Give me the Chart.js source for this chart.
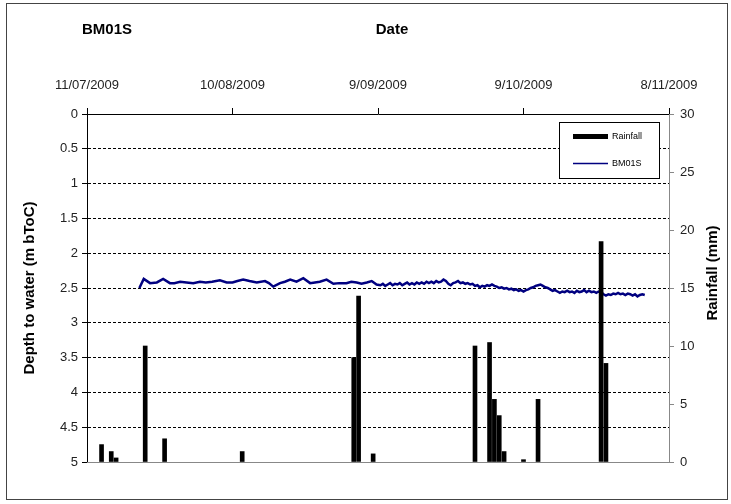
<!DOCTYPE html>
<html>
<head>
<meta charset="utf-8">
<script src="https://cdn.jsdelivr.net/npm/chart.js@4"></script>
<style>
  html, body { margin: 0; background: #fff; }
  #wrap { width: 731px; height: 504px; }
</style>
</head>
<body>
<div id="wrap"><canvas id="chart" width="731" height="504"></canvas></div>
<script>
// days counted from 11/07/2009
const dateLabels = ['11/07/2009', '10/08/2009', '9/09/2009', '9/10/2009', '8/11/2009'];
const dateTicks = [0, 30, 60, 90, 120];

const rainDays = [3, 5, 6, 12, 16, 32, 55, 56, 59, 80, 83, 84, 85, 86, 90, 93, 106, 107];
const rainMm   = [1.5, 0.9, 0.35, 10, 2.0, 0.9, 9.0, 14.3, 0.7, 10.0, 10.3, 5.4, 4.0, 0.9, 0.2, 5.4, 19.0, 8.5];

const lineDays = [
  10.8, 11.7, 13.0, 14.4, 15.7, 17.1, 18.0, 19.2, 20.5, 21.9, 23.3, 24.5, 25.8, 27.4, 28.8,
  30.0, 31.0, 32.2, 33.5, 35.0, 36.7, 37.5, 38.4, 39.8, 40.8, 41.9, 43.2, 44.6, 46.0, 47.0,
  48.0, 49.4, 50.8, 52.0, 53.5, 54.5, 55.6, 56.6, 57.7, 58.7, 59.7,
  60.5, 61, 61.5, 62, 62.5, 63, 63.5, 64, 64.5, 65, 65.5, 66, 66.5, 67, 67.5, 68, 68.5, 69, 69.5,
  70, 70.5, 71, 71.5, 72, 72.5, 73, 73.5, 74, 74.5, 75, 75.5, 76, 76.5, 77, 77.5, 78, 78.5, 79, 79.5,
  80, 80.5, 81, 81.5, 82, 82.5, 83, 83.5, 84, 84.5, 85, 85.5, 86, 86.5, 87, 87.5, 88, 88.5, 89, 89.5,
  90, 90.5, 91, 91.5, 92, 92.5, 93, 93.5, 94, 94.5, 95, 95.5, 96, 96.5, 97, 97.5, 98, 98.5, 99, 99.5,
  100, 100.5, 101, 101.5, 102, 102.5, 103, 103.5, 104, 104.5, 105, 105.5, 106, 106.5, 107, 107.5,
  108, 108.5, 109, 109.5, 110, 110.5, 111, 111.5, 112, 112.5, 113, 113.5, 114, 114.5, 115
];
const lineDepth = [
  2.50, 2.37, 2.43, 2.42, 2.37, 2.43, 2.43, 2.41, 2.42, 2.43, 2.41, 2.42, 2.41, 2.39, 2.42,
  2.42, 2.40, 2.38, 2.40, 2.42, 2.40, 2.43, 2.48, 2.43, 2.41, 2.38, 2.41, 2.36, 2.43, 2.42,
  2.41, 2.38, 2.44, 2.43, 2.43, 2.41, 2.42, 2.44, 2.42, 2.40, 2.45,
  2.46, 2.44, 2.47, 2.45, 2.43, 2.46, 2.44, 2.45, 2.43, 2.46, 2.44, 2.42, 2.45, 2.43, 2.45, 2.42, 2.44, 2.42, 2.44,
  2.41, 2.43, 2.41, 2.43, 2.40, 2.42, 2.41, 2.38, 2.40, 2.44, 2.46, 2.43, 2.42, 2.40, 2.43, 2.42, 2.44, 2.43, 2.45, 2.44,
  2.47, 2.46, 2.49, 2.47, 2.48, 2.46, 2.47, 2.45, 2.47, 2.48, 2.50, 2.49, 2.51, 2.50, 2.52, 2.51, 2.53, 2.52, 2.54, 2.53,
  2.55, 2.53, 2.52, 2.50, 2.49, 2.47, 2.46, 2.45, 2.47, 2.49, 2.50, 2.52, 2.54, 2.53, 2.55, 2.57, 2.55, 2.56, 2.54, 2.56,
  2.55, 2.57, 2.54, 2.56, 2.55, 2.53, 2.56, 2.54, 2.56, 2.55, 2.57, 2.55, 2.56, 2.59, 2.61, 2.59,
  2.60, 2.58, 2.59, 2.57, 2.59, 2.58, 2.60, 2.58, 2.59, 2.61, 2.59, 2.62, 2.60, 2.59, 2.60
];

const stationName = 'BM01S';
const fontFamily = 'Arial, "Liberation Sans", sans-serif';
const tickFont = { family: fontFamily, size: 13 };
const tickColor = '#222';

// frame, headings, right title, bottom line and boxed legend
const decor = {
  id: 'decor',
  beforeDraw(chart) {
    const c = chart.ctx;
    c.save();
    c.fillStyle = '#fff';
    c.fillRect(0, 0, chart.width, chart.height);
    c.restore();
  },
  afterDraw(chart) {
    const c = chart.ctx;
    const a = chart.chartArea;
    c.save();
    c.strokeStyle = '#888';
    c.lineWidth = 1;
    c.beginPath();
    c.moveTo(a.left, a.bottom + 0.5);
    c.lineTo(a.right, a.bottom + 0.5);
    c.stroke();

    c.strokeStyle = '#444';
    c.strokeRect(6.5, 3.5, 721, 496);

    c.fillStyle = '#000';
    c.font = 'bold 15px ' + fontFamily;
    c.textAlign = 'center';
    c.textBaseline = 'middle';
    c.fillText(stationName, 107, 30);
    c.fillText('Date', 392, 30);

    c.save();
    c.translate(713, 273);
    c.rotate(-Math.PI / 2);
    c.fillText('Rainfall (mm)', 0, 0);
    c.restore();

    // legend
    const ds = chart.data.datasets;
    c.fillStyle = '#fff';
    c.fillRect(559, 122, 100, 56);
    c.strokeStyle = '#000';
    c.strokeRect(559.5, 122.5, 100, 56);
    c.fillStyle = '#000';
    c.fillRect(573, 134, 35, 5);
    c.strokeStyle = '#000080';
    c.lineWidth = 1.5;
    c.beginPath();
    c.moveTo(573, 163.5);
    c.lineTo(608, 163.5);
    c.stroke();
    c.fillStyle = '#000';
    c.font = '9px ' + fontFamily;
    c.textAlign = 'left';
    c.fillText(ds[0].label, 612, 137);
    c.fillText(ds[1].label, 612, 164);
    c.restore();
  }
};

new Chart(document.getElementById('chart'), {
  type: 'bar',
  data: {
    datasets: [{
      label: 'Rainfall',
      data: rainDays.map((d, i) => ({ x: d, y: rainMm[i] })),
      yAxisID: 'y2',
      backgroundColor: '#000',
      barThickness: 4,
      order: 1
    }, {
      type: 'line',
      label: stationName,
      data: lineDays.map((d, i) => ({ x: d, y: lineDepth[i] })),
      yAxisID: 'y',
      borderColor: '#000080',
      borderWidth: 2.5,
      pointRadius: 0,
      tension: 0,
      order: 2
    }]
  },
  options: {
    responsive: false,
    animation: false,
    layout: { padding: { top: 0, left: 0, right: 0, bottom: 42 } },
    plugins: {
      legend: { display: false },
      title: { display: false },
      tooltip: { enabled: false }
    },
    scales: {
      x: {
        type: 'linear',
        position: 'top',
        min: 0,
        max: 120,
        offset: false,
        afterFit: s => { s.height = 114; },
        ticks: {
          stepSize: 30,
          autoSkip: false,
          maxRotation: 0,
          padding: 15,
          font: tickFont,
          color: tickColor,
          callback: v => dateLabels[dateTicks.indexOf(v)]
        },
        grid: { drawOnChartArea: false, offset: false, color: '#000', tickLength: 6 },
        border: { color: '#000' }
      },
      y: {
        position: 'left',
        reverse: true,
        min: 0,
        max: 5,
        afterFit: s => { s.width = 87; },
        ticks: { stepSize: 0.5, padding: 4, font: tickFont, color: tickColor, callback: v => String(+v.toFixed(1)) },
        grid: {
          color: ctx => (ctx.tick && (ctx.tick.value === 0 || ctx.tick.value === 5)) ? 'rgba(0,0,0,0)' : '#000',
          tickColor: '#000',
          tickLength: 5
        },
        border: { color: '#000', dash: [3, 2] },
        title: {
          display: true,
          text: 'Depth to water (m bToC)',
          color: '#000',
          font: { family: fontFamily, size: 15, weight: 'bold' },
          padding: { top: 21, bottom: 0 }
        }
      },
      y2: {
        position: 'right',
        min: 0,
        max: 30,
        afterFit: s => { s.width = 62; },
        ticks: { stepSize: 5, padding: 6, font: tickFont, color: tickColor },
        grid: { drawOnChartArea: false, color: '#888', tickLength: 5 },
        border: { color: '#888' }
      }
    }
  },
  plugins: [decor]
});
</script>
</body>
</html>
